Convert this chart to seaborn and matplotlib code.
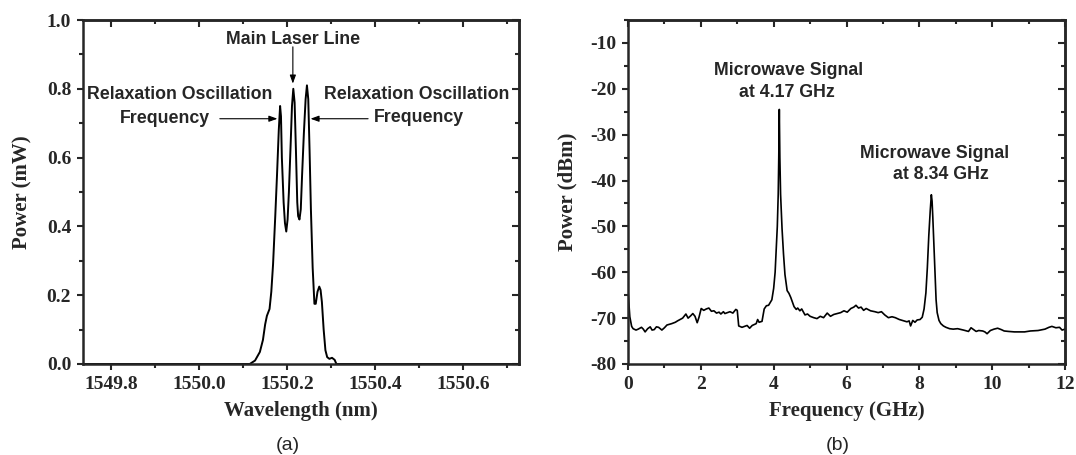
import numpy as np
import pandas as pd
import matplotlib
matplotlib.use("Agg")
import matplotlib.pyplot as plt
import seaborn as sns

# ---- data: panel (a) optical spectrum ----
wavelength_nm = [1549.736, 1550.100, 1550.115, 1550.127, 1550.138, 1550.145, 1550.150, 1550.154,
                 1550.160, 1550.164, 1550.168, 1550.173, 1550.177, 1550.181, 1550.184, 1550.186,
                 1550.188, 1550.192, 1550.195, 1550.198, 1550.201, 1550.204, 1550.208, 1550.211,
                 1550.214, 1550.217, 1550.220, 1550.223, 1550.225, 1550.228, 1550.231, 1550.234,
                 1550.238, 1550.242, 1550.245, 1550.248, 1550.251, 1550.254, 1550.258, 1550.262,
                 1550.265, 1550.269, 1550.273, 1550.276, 1550.279, 1550.283, 1550.287, 1550.291,
                 1550.296, 1550.302, 1550.308, 1550.312, 1550.727]
power_mw = [0.0, 0.0, 0.0, 0.01, 0.035, 0.07, 0.115, 0.14,
            0.16, 0.21, 0.29, 0.43, 0.55, 0.68, 0.75, 0.72,
            0.60, 0.47, 0.41, 0.385, 0.42, 0.50, 0.64, 0.75,
            0.80, 0.76, 0.62, 0.47, 0.43, 0.42, 0.45, 0.55,
            0.67, 0.77, 0.81, 0.77, 0.62, 0.45, 0.28, 0.175,
            0.175, 0.21, 0.225, 0.215, 0.18, 0.10, 0.04, 0.02,
            0.015, 0.018, 0.012, 0.0, 0.0]

# ---- data: panel (b) RF spectrum ----
freq_ghz = [0.00, 0.05, 0.10, 0.14, 0.22, 0.28, 0.37, 0.42, 0.47, 0.54, 0.61, 0.66, 0.72, 0.78,
            0.84, 0.93, 1.00, 1.07, 1.20, 1.30, 1.36, 1.45, 1.50, 1.59, 1.65, 1.72, 1.78, 1.84,
            1.90, 1.95, 2.01, 2.08, 2.15, 2.22, 2.29, 2.36, 2.43, 2.50, 2.55, 2.62, 2.66, 2.73,
            2.80, 2.88, 2.96, 3.00, 3.04, 3.13, 3.20, 3.27, 3.34, 3.41, 3.52, 3.56, 3.60, 3.68,
            3.74, 3.80, 3.86, 3.95, 4.00, 4.04, 4.07, 4.10, 4.125, 4.14, 4.155, 4.17, 4.19, 4.23,
            4.27, 4.31, 4.37, 4.42, 4.47, 4.56, 4.62, 4.66, 4.72, 4.77, 4.86, 4.93, 5.00, 5.10,
            5.19, 5.28, 5.37, 5.47, 5.56, 5.65, 5.75, 5.84, 5.93, 6.02, 6.12, 6.20, 6.26, 6.33,
            6.40, 6.47, 6.54, 6.66, 6.78, 6.87, 6.96, 7.05, 7.15, 7.25, 7.34, 7.45, 7.57, 7.66,
            7.72, 7.76, 7.82, 7.88, 7.94, 8.02, 8.08, 8.13, 8.18, 8.22, 8.26, 8.30, 8.33, 8.35,
            8.37, 8.40, 8.43, 8.46, 8.49, 8.54, 8.59, 8.66, 8.73, 8.83, 8.93, 9.05, 9.21, 9.35,
            9.42, 9.49, 9.56, 9.63, 9.74, 9.80, 9.86, 9.95, 10.05, 10.15, 10.25, 10.33, 10.45,
            10.61, 10.75, 10.89, 11.05, 11.26, 11.45, 11.56, 11.64, 11.75, 11.85, 11.92, 12.0]
power_dbm = [-64.0, -69.7, -71.8, -72.3, -72.6, -72.4, -72.0, -72.4, -73.0, -72.3, -71.9, -72.6, -72.5, -71.9,
             -72.0, -72.6, -72.1, -71.5, -71.2, -70.9, -70.6, -70.2, -70.0, -69.1, -70.0, -69.5, -69.0, -69.6,
             -71.0, -69.8, -67.9, -68.3, -68.0, -67.8, -68.5, -68.4, -68.9, -68.7, -69.1, -68.6, -69.0, -68.8,
             -68.6, -68.9, -68.1, -68.3, -71.7, -72.0, -71.8, -71.6, -72.2, -71.6, -71.2, -70.3, -70.9, -70.7,
             -68.0, -67.3, -67.2, -66.0, -63.5, -60.0, -55.0, -50.0, -43.0, -35.0, -24.5, -35.0, -43.0, -50.5,
             -56.0, -60.5, -64.0, -64.6, -65.5, -67.5, -68.1, -67.8, -68.4, -68.0, -69.3, -69.1, -69.6, -69.9,
             -70.1, -69.6, -69.9, -68.9, -69.6, -69.2, -69.0, -68.8, -68.4, -68.7, -67.9, -67.6, -67.2, -67.8,
             -67.6, -68.3, -67.9, -68.4, -68.6, -68.8, -68.6, -69.3, -69.9, -69.7, -69.9, -70.3, -70.6, -70.8,
             -70.6, -71.7, -70.5, -70.9, -70.4, -70.3, -69.8, -68.0, -64.5, -59.0, -52.0, -46.5, -43.1, -44.5,
             -48.0, -54.0, -60.0, -66.0, -68.8, -70.5, -71.2, -71.7, -72.0, -72.3, -72.4, -72.3, -72.6, -72.9,
             -72.1, -72.5, -72.9, -72.7, -72.8, -73.0, -73.4, -72.7, -72.4, -72.2, -72.5, -72.8, -72.9,
             -73.0, -73.0, -73.0, -72.8, -72.7, -72.4, -72.0, -71.8, -72.1, -72.0, -72.6, -72.4]

sns.set_style("ticks")
plt.rcParams['font.family'] = ['Liberation Serif', 'DejaVu Serif']
plt.rcParams['axes.unicode_minus'] = False

df_a = pd.DataFrame({"wl": wavelength_nm, "p": power_mw})
df_b = pd.DataFrame({"f": freq_ghz, "p": power_dbm})

fig = plt.figure(figsize=(10.76, 4.55), dpi=100)
ax1 = fig.add_axes([83/1076, 1-364/455, 436/1076, 344/455])
ax2 = fig.add_axes([628/1076, 1-364/455, 437/1076, 344/455])

sns.lineplot(data=df_a, x="wl", y="p", ax=ax1, color="black", lw=1.4,
             estimator=None, sort=False, legend=False)
sns.lineplot(data=df_b, x="f", y="p", ax=ax2, color="black", lw=1.2,
             estimator=None, sort=False, legend=False)

ax1.set_xlim(1549.736, 1550.727)
ax1.set_ylim(0, 1.0)
xa_major = [1549.8, 1550.0, 1550.2, 1550.4, 1550.6]
xa_minor = list(np.arange(1549.8, 1550.75, 0.1))
ya_major = list(np.arange(0, 1.01, 0.2))
ya_minor = list(np.arange(0, 1.01, 0.1))
ax1.set_xticks(xa_major)
ax1.set_xticklabels(["1549.8", "1550.0", "1550.2", "1550.4", "1550.6"])
ax1.set_xticks(xa_minor, minor=True)
ax1.set_yticks(ya_major)
ax1.set_yticklabels(["0.0", "0.2", "0.4", "0.6", "0.8", "1.0"])
ax1.set_yticks(ya_minor, minor=True)

ax2.set_xlim(0, 12)
ax2.set_ylim(-80, -5)
xb_major = list(np.arange(0, 13, 2))
xb_minor = list(np.arange(0, 13, 1))
yb_major = list(np.arange(-80, -9, 10))
yb_minor = list(np.arange(-80, -4, 5))
ax2.set_xticks(xb_major)
ax2.set_xticks(xb_minor, minor=True)
ax2.set_yticks(yb_major)
ax2.set_yticks(yb_minor, minor=True)

for ax, xm, xn, ym, yn in ((ax1, xa_major, xa_minor, ya_major, ya_minor),
                           (ax2, xb_major, xb_minor, yb_major, yb_minor)):
    for s in ax.spines.values():
        s.set_linewidth(1.8)
        s.set_visible(True)
    ax.tick_params(which="both", direction="out", width=1.5)
    ax.tick_params(which="major", length=4.5, labelsize=14, pad=4)
    ax.tick_params(which="minor", length=3)
    for lab in ax.get_xticklabels() + ax.get_yticklabels():
        lab.set_fontweight("bold")
    top = ax.secondary_xaxis("top")
    top.set_xticks(xm)
    top.set_xticks(xn, minor=True)
    top.tick_params(which="both", direction="in", width=1.5, labeltop=False)
    top.tick_params(which="major", length=5)
    top.tick_params(which="minor", length=3)
    top.spines["top"].set_linewidth(1.8)
    right = ax.secondary_yaxis("right")
    right.set_yticks(ym)
    right.set_yticks(yn, minor=True)
    right.tick_params(which="both", direction="in", width=1.5, labelright=False)
    right.tick_params(which="major", length=5)
    right.tick_params(which="minor", length=3)
    right.spines["right"].set_linewidth(1.8)

ax1.set_xlabel("Wavelength (nm)", fontsize=15, fontweight="bold", labelpad=6)
ax1.set_ylabel("Power (mW)", fontsize=15, fontweight="bold", labelpad=10)
ax2.set_xlabel("Frequency (GHz)", fontsize=15, fontweight="bold", labelpad=6)
ax2.set_ylabel("Power (dBm)", fontsize=15, fontweight="bold", labelpad=9)

sans = ['Liberation Sans', 'DejaVu Sans']
akw = dict(fontsize=12.8, fontweight="bold", family=sans, ha="center", va="center")
arw = dict(arrowstyle="-|>,head_length=0.5,head_width=0.18", color="black", lw=0.8,
           shrinkA=0, shrinkB=0)

ax1.text(1550.213, 0.944, "Main Laser Line", **akw)
ax1.annotate("", xy=(1550.213, 0.815), xytext=(1550.213, 0.922), arrowprops=arw)
ax1.text(1549.955, 0.782, "Relaxation Oscillation", **akw)
ax1.text(1549.923, 0.714, "Frequency", **akw)
ax1.annotate("", xy=(1550.178, 0.713), xytext=(1550.047, 0.713), arrowprops=arw)
ax1.text(1550.495, 0.782, "Relaxation Oscillation", **akw)
ax1.text(1550.499, 0.716, "Frequency", **akw)
ax1.annotate("", xy=(1550.253, 0.713), xytext=(1550.384, 0.713), arrowprops=arw)

ax2.text(4.42, -15.95, "Microwave Signal", **akw)
ax2.text(4.36, -20.7, "at 4.17 GHz", **akw)
ax2.text(8.43, -34.0, "Microwave Signal", **akw)
ax2.text(8.59, -38.7, "at 8.34 GHz", **akw)

fig.text(288/1076, 1-445/455, "(a)", fontsize=14, family=sans, ha="center", va="center")
fig.text(838/1076, 1-445/455, "(b)", fontsize=14, family=sans, ha="center", va="center")

fig.savefig("out.png", dpi=100)
